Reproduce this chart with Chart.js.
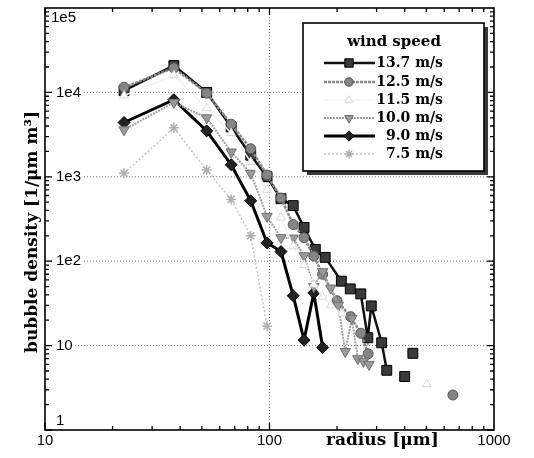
<!DOCTYPE html>
<html><head><meta charset="utf-8">
<script src="https://cdn.jsdelivr.net/npm/chart.js@4/dist/chart.umd.min.js"></script>
<style>html,body{margin:0;padding:0;background:#fff}#wrap{width:534px;height:458px;position:relative}</style>
</head><body><div id="wrap"><canvas id="c" width="534" height="458"></canvas></div>
<script>
// ---- data ----
const speedLabels = ['13.7 m/s','12.5 m/s','11.5 m/s','10.0 m/s','9.0 m/s','7.5 m/s'];
const radius137 = [22.5, 37.5, 52.5, 67.5, 82.5, 97.5, 112.5, 127.5, 142.5, 160, 177, 209, 229, 255, 274, 284, 316, 333, 333, 400, 400, 435];
const dens137   = [10500, 20800, 10000, 3900, 1800, 1000, 550, 456, 251, 138, 111, 58, 47, 41, 12.4, 29.5, 10.8, 5.1, null, 4.3, null, 8.1];
const radius125 = [22.5, 37.5, 52.5, 67.5, 82.5, 97.5, 112.5, 127.5, 142.5, 157.5, 172.5, 200, 230, 255, 275, 275, 656];
const dens125   = [11500, 19500, 9800, 4200, 2150, 1050, 560, 272, 190, 115, 70, 34, 22, 14, 8, null, 2.6];
const radius115 = [22.5, 37.5, 52.5, 67.5, 82.5, 97.5, 112.5, 127.5, 142.5, 157.5, 172.5, 187.5, 210, 210, 502];
const dens115   = [9200, 16000, 6500, 3300, 1500, 700, 330, 150, 90, 53, 38, 30, 24, null, 3.5];
const radius100 = [22.5, 37.5, 52.5, 67.5, 82.5, 97.5, 112.5, 127.5, 142.5, 157.5, 172.5, 187.5, 202.5, 217.5, 232.5, 247.5, 262.5, 277.5];
const dens100   = [3600, 7600, 5000, 1970, 1100, 340, 190, 188, 116, 50, 75, 48, 30, 8.5, 21, 7, 6.5, 6];
const radius90  = [22.5, 37.5, 52.5, 67.5, 82.5, 97.5, 112.5, 127.5, 142.5, 157.5, 172.5];
const dens90    = [4400, 8200, 3500, 1390, 520, 165, 130, 39, 11.6, 42, 9.5];
const radius75  = [22.5, 37.5, 52.5, 67.5, 82.5, 97.5];
const dens75    = [1100, 3800, 1200, 540, 200, 17];
const xTickValues = [10, 100, 1000];
const xTickLabels = ['10', '100', '1000'];
const yTickValues = [1, 10, 100, 1000, 10000, 100000];
const yTickLabels = ['1', '10', '1e2', '1e3', '1e4', '1e5'];
const xTitle = 'radius [μm]';
const yTitle = 'bubble density [1/μm m³]';
const legendTitle = 'wind speed';

const pts = (xs, ys) => xs.map((x, i) => ({x: x, y: ys[i]}));

const styles = [
  {borderColor:'#111', borderWidth:2.5, pointStyle:'rect', pointRadius:7, pointBackgroundColor:'#3a3a3a', pointBorderColor:'#000', pointBorderWidth:1, pointRotation:0},
  {borderColor:'#8a8a8a', borderWidth:2.5, borderDash:[3,1], pointStyle:'circle', pointRadius:5, pointBackgroundColor:'#858585', pointBorderColor:'#555', pointBorderWidth:1, pointRotation:0},
  {borderColor:'#f2f2f2', borderWidth:1.5, pointStyle:'triangle', pointRadius:5, pointBackgroundColor:'#fff', pointBorderColor:'#d8d8d8', pointBorderWidth:1, pointRotation:0},
  {borderColor:'#a0a0a0', borderWidth:2, borderDash:[2,1], pointStyle:'triangle', pointRadius:6, pointBackgroundColor:'#9a9a9a', pointBorderColor:'#707070', pointBorderWidth:1, pointRotation:180},
  {borderColor:'#000', borderWidth:3, pointStyle:'rectRot', pointRadius:6, pointBackgroundColor:'#222', pointBorderColor:'#000', pointBorderWidth:1, pointRotation:0},
  {borderColor:'#c4c4c4', borderWidth:1.5, borderDash:[2,2], pointStyle:'star', pointRadius:5, pointBackgroundColor:'#c0c0c0', pointBorderColor:'#b0b0b0', pointBorderWidth:1.5, pointRotation:0}
];
const seriesData = [pts(radius137,dens137), pts(radius125,dens125), pts(radius115,dens115), pts(radius100,dens100), pts(radius90,dens90), pts(radius75,dens75)];
// draw order: light ones first
const order = [2,5,3,1,4,0];
const datasets = order.map(i => Object.assign({label: speedLabels[i], data: seriesData[i], showLine:true, spanGaps:false, fill:false, tension:0}, styles[i]));

const SERIF = '"DejaVu Serif", "Liberation Serif", serif';
const SANS = '"Liberation Sans", Arial, sans-serif';

const decor = {
  id: 'decor',
  beforeDatasetsDraw(chart) {
    const ctx = chart.ctx, a = chart.chartArea, xs = chart.scales.x, ys = chart.scales.y;
    ctx.save();
    ctx.strokeStyle = '#777'; ctx.lineWidth = 1; ctx.setLineDash([1,2]);
    xTickValues.forEach(v => { const p = xs.getPixelForValue(v); if (p > a.left + 2 && p < a.right - 2) { ctx.beginPath(); ctx.moveTo(p, a.top); ctx.lineTo(p, a.bottom); ctx.stroke(); }});
    yTickValues.forEach(v => { const p = ys.getPixelForValue(v); if (p > a.top + 2 && p < a.bottom - 2) { ctx.beginPath(); ctx.moveTo(a.left, p); ctx.lineTo(a.right, p); ctx.stroke(); }});
    ctx.setLineDash([]);
    // y tick labels (inside plot)
    ctx.font = '15px ' + SANS; ctx.textBaseline = 'middle'; ctx.textAlign = 'left';
    yTickValues.forEach((v, i) => {
      let p = ys.getPixelForValue(v);
      p = Math.max(a.top + 10, Math.min(a.bottom - 9, p));
      const lx = (i === yTickValues.length - 1) ? a.left + 6 : a.left + 11;
      const w = ctx.measureText(yTickLabels[i]).width;
      ctx.fillStyle = '#fff'; ctx.fillRect(lx - 2, p - 8, w + 4, 16);
      ctx.fillStyle = '#000'; ctx.fillText(yTickLabels[i], lx, p);
    });
    ctx.restore();
  },
  afterDraw(chart) {
    const ctx = chart.ctx, a = chart.chartArea, xs = chart.scales.x, ys = chart.scales.y;
    ctx.save();
    // frame
    ctx.strokeStyle = '#000'; ctx.lineWidth = 1.6;
    ctx.strokeRect(a.left, a.top, a.right - a.left, a.bottom - a.top);
    // inward ticks
    ctx.lineWidth = 1.3;
    for (let k = 0; k < 5; k++) for (let m = 1; m <= 9; m++) {
      const v = m * Math.pow(10, k); const p = ys.getPixelForValue(v); const len = m === 1 ? 7 : 4;
      ctx.beginPath(); ctx.moveTo(a.left, p); ctx.lineTo(a.left + len, p); ctx.moveTo(a.right, p); ctx.lineTo(a.right - len, p); ctx.stroke();
    }
    for (let k = 1; k < 3; k++) for (let m = 1; m <= 9; m++) {
      const v = m * Math.pow(10, k); const p = xs.getPixelForValue(v); const len = m === 1 ? 7 : 4;
      ctx.beginPath(); ctx.moveTo(p, a.bottom); ctx.lineTo(p, a.bottom - len); ctx.moveTo(p, a.top); ctx.lineTo(p, a.top + len); ctx.stroke();
    }
    // x tick labels
    ctx.fillStyle = '#000'; ctx.font = '15px ' + SANS; ctx.textAlign = 'center'; ctx.textBaseline = 'middle';
    xTickValues.forEach((v, i) => ctx.fillText(xTickLabels[i], xs.getPixelForValue(v), a.bottom + 11));
    // x title
    ctx.font = 'bold 17px ' + SERIF; ctx.textAlign = 'left';
    ctx.fillText(xTitle, 326, a.bottom + 11);
    // y title
    ctx.save(); ctx.translate(37, 232); ctx.rotate(-Math.PI / 2);
    ctx.textAlign = 'center'; ctx.textBaseline = 'alphabetic'; ctx.font = 'bold 17px ' + SERIF;
    ctx.fillText(yTitle, 0, 0); ctx.restore();
    // legend box
    const bx = 303, by = 23, bw = 181, bh = 148;
    ctx.fillStyle = '#3a3a3a'; ctx.fillRect(bx + 4, by + 4, bw, bh);
    ctx.fillStyle = '#fff'; ctx.fillRect(bx, by, bw, bh);
    ctx.strokeStyle = '#000'; ctx.lineWidth = 1.6; ctx.strokeRect(bx, by, bw, bh);
    ctx.fillStyle = '#000'; ctx.font = 'bold 15px ' + SERIF; ctx.textAlign = 'center'; ctx.textBaseline = 'middle';
    ctx.fillText(legendTitle, 394, 42);
    const rows = [63, 82, 100, 118, 136, 154];
    speedLabels.forEach((lab, i) => {
      const s = styles[i], y = rows[i];
      ctx.save();
      ctx.strokeStyle = s.borderColor; ctx.lineWidth = s.borderWidth; ctx.setLineDash(s.borderDash || []);
      ctx.beginPath(); ctx.moveTo(324, y); ctx.lineTo(375, y); ctx.stroke();
      ctx.setLineDash([]);
      ctx.fillStyle = s.pointBackgroundColor; ctx.strokeStyle = s.pointBorderColor; ctx.lineWidth = s.pointBorderWidth;
      Chart.helpers.drawPoint(ctx, {pointStyle: s.pointStyle, radius: s.pointRadius * 0.85, rotation: s.pointRotation, borderWidth: s.pointBorderWidth}, 349, y);
      ctx.restore();
      ctx.fillStyle = '#000'; ctx.font = 'bold 14px ' + SERIF; ctx.textAlign = 'right'; ctx.textBaseline = 'middle';
      ctx.fillText(lab, 443, y);
    });
    ctx.restore();
  }
};

new Chart(document.getElementById('c'), {
  type: 'scatter',
  data: { datasets: datasets },
  options: {
    responsive: false, animation: false, devicePixelRatio: 1,
    layout: { padding: { left: 45, right: 40, top: 5, bottom: 28 } },
    plugins: { legend: { display: false }, tooltip: { enabled: false } },
    scales: {
      x: { type: 'logarithmic', min: 10, max: 1000, ticks: { display: false }, grid: { display: false, drawTicks: false }, border: { display: false } },
      y: { type: 'logarithmic', min: 1, max: 100000, ticks: { display: false }, grid: { display: false, drawTicks: false }, border: { display: false } }
    }
  },
  plugins: [decor]
});
</script>
</body></html>
